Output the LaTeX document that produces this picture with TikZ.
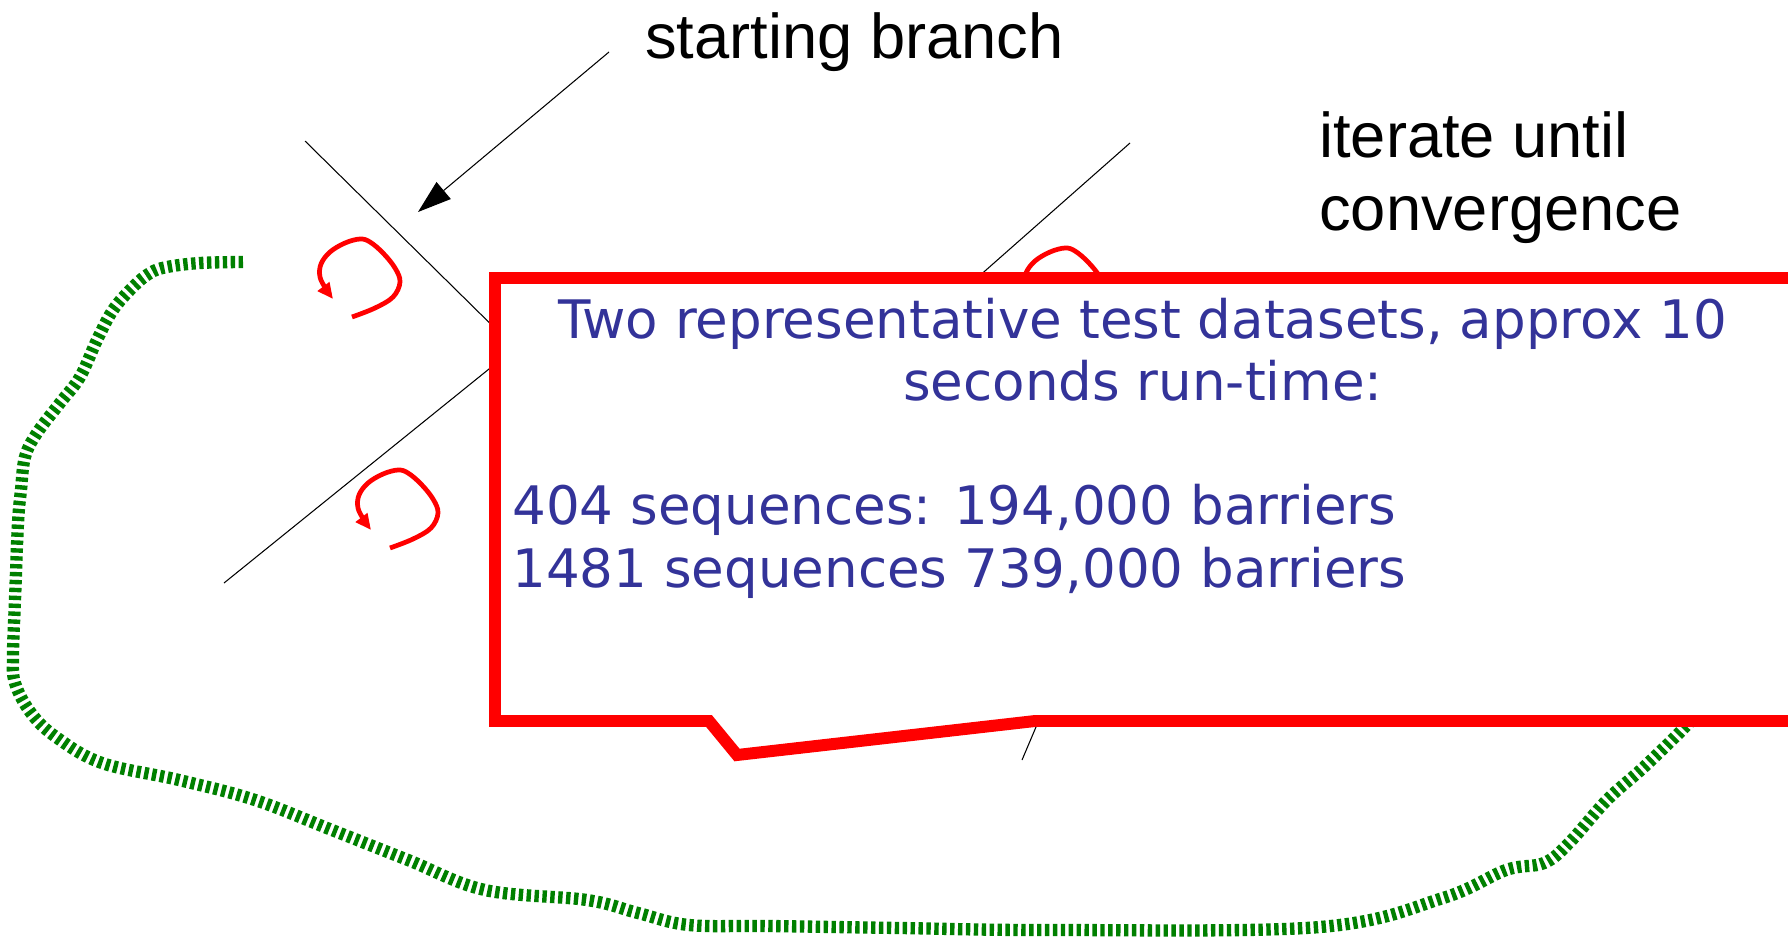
\documentclass[tikz,border=0pt]{standalone}
\usepackage{fontspec}
\setmainfont{Liberation Sans}
\newfontfamily\dejavu{DejaVu Sans}
\usetikzlibrary{arrows.meta}
\definecolor{textblue}{HTML}{333399}
\definecolor{walkgreen}{HTML}{008000}

\begin{document}
\begin{tikzpicture}[x=0.02cm, y=-0.02cm, line join=miter,
    blackline/.style={black, line width=0.6pt},
    swirl/.style={red, line width=2.7pt, -{Triangle[length=9pt, width=8pt]}},
    walk/.style={walkgreen, line width=7pt, dash pattern=on 2.5pt off 2pt},
    callout/.style={red, line width=6.8pt, fill=white},
    note/.style={font=\fontsize{36}{41.5}\selectfont, inner sep=0pt, anchor=base west},
    info/.style={font=\dejavu\fontsize{30.2}{35.4}\selectfont, text=textblue, inner sep=0pt}]
\fill[white] (0,0) rectangle (1788,937);
\useasboundingbox (0,0) rectangle (1788,937);
\clip (0,0) rectangle (1788,937);

% tree
\coordinate (leafA) at (305,141);
\coordinate (leafB) at (224,583);
\coordinate (leafC) at (1130,143);
\coordinate (leafD) at (1022,760);
\coordinate (innerL) at (515,348);
\coordinate (innerR) at (909,338);
\coordinate (innerD) at (1050,694);

\draw[blackline] (leafA) -- (innerL) -- (leafB);
\draw[blackline] (leafC) -- (innerR);
\draw[blackline] (leafD) -- (innerD);

% swirls
\foreach \dx/\dy in {0/0, 38/231, 705/9}
    \draw[swirl, shift={(\dx,\dy)}] plot[smooth, tension=0.6] coordinates {(352,317) (375,308) (393,297) (400,282) (395,268) (383,253) (370,242) (360,239) (345,243) (330,252) (321,264) (320,277) (326,289) (333,299)};

% the walk round the tree
\draw[walk] plot[smooth, tension=0.6] coordinates {(243,262) (200,263) (167,267) (150,273) (133,287) (113,310) (97,340) (80,377) (60,403) (37,433) (25,457) (21,490) (18,523) (15,600) (13,655) (15,683) (31,713) (56,737) (102,763) (179,780) (255,800) (332,830) (408,860) (485,890) (587,900) (638,913) (689,925) (770,926) (900,928) (1052,930) (1320,927) (1443,898) (1506,870) (1544,863) (1569,843) (1607,800) (1644,767) (1685,727) (1710,700)};

\draw[callout] (495,278) -- (1850,278) -- (1850,721) -- (1035,721) -- (737,755) -- (709,721) -- (495,721) -- cycle;

\node[info, anchor=base] (title1) at (1143,338) {Two representative test datasets, approx 10};
\node[info, anchor=base] (title2) at (1143,400) {seconds run-time:};
\node[info, anchor=base west] (count1) at (512,524) {404 sequences: 194,000 barriers};
\node[info, anchor=base west] (count2) at (512,587) {1481 sequences 739,000 barriers};

\node[note] (start) at (645,58) {starting branch};
\node[note] (iter1) at (1319,157) {iterate until};
\node[note] (iter2) at (1319,230) {convergence};

\coordinate (startTail) at (609,52);
\coordinate (startTip) at (418,212);
\draw[blackline, -{Triangle[length=0.67cm, width=0.44cm]}] (startTail) -- (startTip);
\end{tikzpicture}
\end{document}
